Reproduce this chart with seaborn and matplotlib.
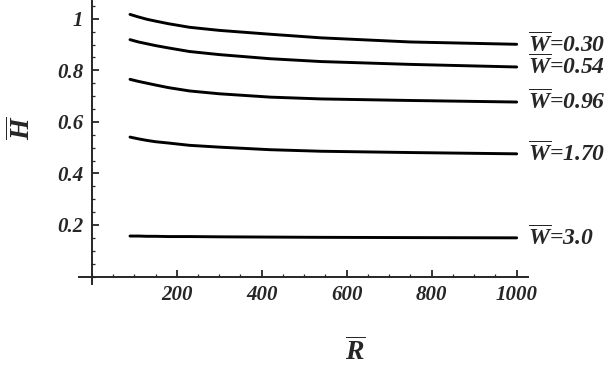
import pandas as pd
import matplotlib
matplotlib.use("Agg")
import matplotlib.pyplot as plt
import seaborn as sns
from matplotlib.ticker import MultipleLocator

# Values
R = [90, 110, 130, 150, 180, 230, 300, 420, 540, 750, 1000]
h_030 = [1.017, 1.007, 0.998, 0.991, 0.981, 0.967, 0.955, 0.940, 0.926, 0.910, 0.901]
h_054 = [0.919, 0.910, 0.903, 0.896, 0.887, 0.873, 0.861, 0.845, 0.834, 0.823, 0.813]
h_096 = [0.765, 0.757, 0.750, 0.743, 0.733, 0.720, 0.709, 0.696, 0.689, 0.683, 0.677]
h_170 = [0.541, 0.534, 0.528, 0.523, 0.518, 0.509, 0.502, 0.492, 0.486, 0.481, 0.476]
h_300 = [0.157, 0.157, 0.156, 0.156, 0.155, 0.155, 0.154, 0.153, 0.152, 0.151, 0.150]

w_labels = ["0.30", "0.54", "0.96", "1.70", "3.0"]
series = [h_030, h_054, h_096, h_170, h_300]
x_ticks = [200, 400, 600, 800, 1000]
y_ticks = [0.2, 0.4, 0.6, 0.8, 1.0]
y_tick_labels = ["0.2", "0.4", "0.6", "0.8", "1"]

rows = []
for w, hs in zip(w_labels, series):
    for r, h in zip(R, hs):
        rows.append({"R": r, "H": h, "W": w})
df = pd.DataFrame(rows)

sns.set_style("white")
plt.rcParams["font.family"] = ["Liberation Serif", "DejaVu Serif"]
plt.rcParams["mathtext.fontset"] = "custom"
plt.rcParams["mathtext.it"] = "Liberation Serif:italic:bold"
plt.rcParams["mathtext.rm"] = "Liberation Serif:bold"
plt.rcParams["mathtext.bf"] = "Liberation Serif:bold"

fig = plt.figure(figsize=(6.13, 3.68), dpi=100)
ax = fig.add_axes([0.1289, 0.229, 0.732, 0.769])

sns.lineplot(data=df, x="R", y="H", hue="W", palette=["black"] * 5,
             linewidth=2.1, legend=False, ax=ax)

ax.set_xlim(-30, 1026)
ax.set_ylim(-0.028, 1.07)

for s in ["top", "right"]:
    ax.spines[s].set_visible(False)
ax.spines["left"].set_position(("data", 0))
ax.spines["bottom"].set_position(("data", 0))
ax.spines["left"].set_linewidth(1.4)
ax.spines["bottom"].set_linewidth(1.4)

ax.set_xticks(x_ticks)
ax.set_yticks(y_ticks)
ax.set_yticklabels(y_tick_labels)
ax.xaxis.set_minor_locator(MultipleLocator(50))
ax.yaxis.set_minor_locator(MultipleLocator(0.05))
ax.tick_params(which="both", bottom=True, left=True, direction="in")
ax.tick_params(which="major", length=5, width=1.3, labelsize=15, pad=6)
ax.tick_params(which="minor", length=2.5, width=0.9)
for lab in ax.get_xticklabels() + ax.get_yticklabels():
    lab.set_fontweight("bold")
    lab.set_fontstyle("italic")
ax.set_xlabel("")
ax.set_ylabel("")

# curve labels on the right
for w, hs in zip(w_labels, series):
    ax.text(1027, hs[-1], r"$\overline{W}$=" + w, fontsize=17,
            fontweight="bold", fontstyle="italic", va="center", ha="left",
            clip_on=False)

fig.text(0.036, 0.652, r"$\overline{H}$", fontsize=20, rotation=90,
         ha="center", va="center")
fig.text(0.579, 0.043, r"$\overline{R}$", fontsize=20,
         ha="center", va="center")

plt.savefig("out.png", dpi=100)
